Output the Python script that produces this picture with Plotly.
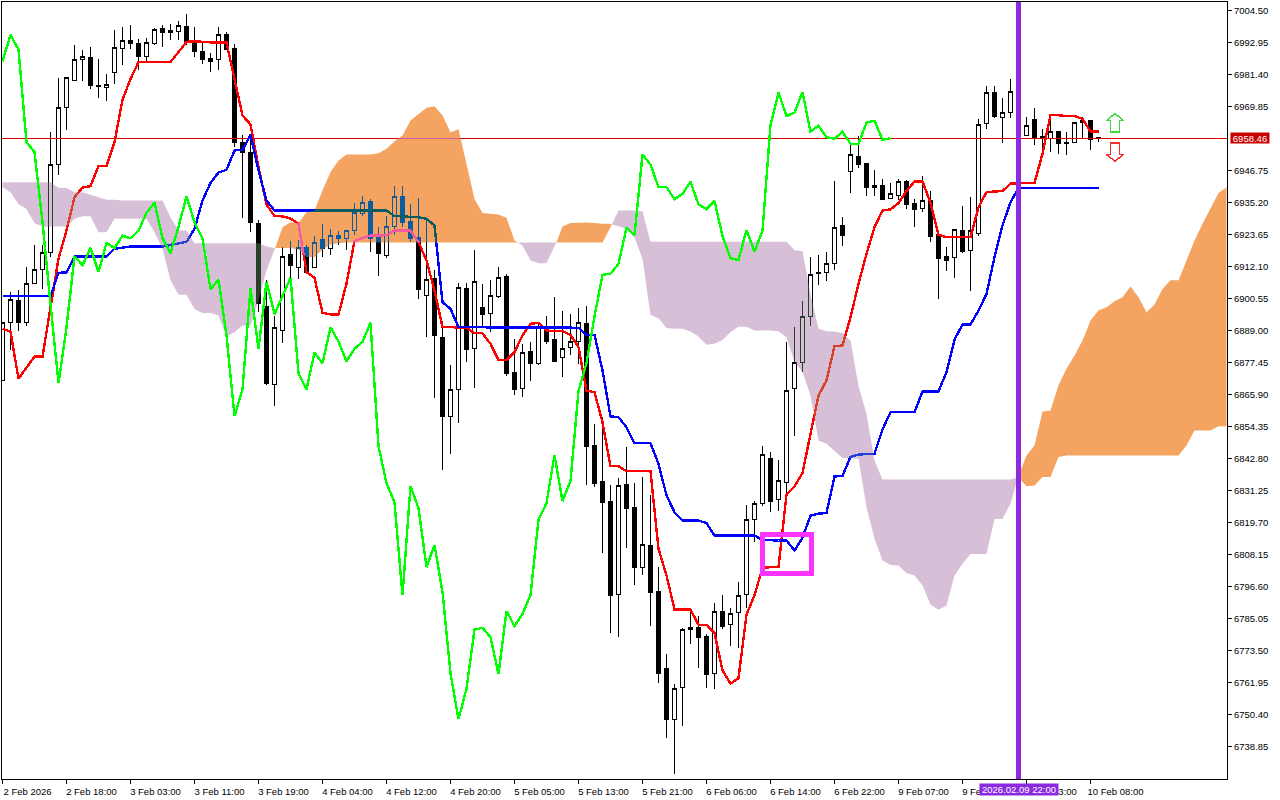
#!/usr/bin/env python3
# H1 candles with ichimoku lines
import plotly.graph_objects as go

opens = [6871.0,6892.0,6899.8,6892.0,6906.1,6910.9,6917.0,6948.8,6969.6,6979.2,
  6986.7,6987.4,6977.3,6976.8,6982.0,6990.7,6993.6,6992.5,6988.0,6992.7,
  6997.9,6997.2,6996.8,6998.7,6993.1,6989.7,6987.1,6986.7,6995.7,6990.7,
  6956.7,6953.1,6927.5,6897.8,6869.4,6889.0,6916.4,6911.6,6918.8,6911.6,
  6921.7,6918.7,6923.3,6922.1,6925.0,6931.4,6935.4,6922.4,6916.2,6926.7,
  6937.4,6928.3,6922.4,6901.8,6907.7,6886.4,6857.9,6867.6,6904.0,6882.6,
  6897.2,6895.0,6901.4,6908.5,6873.7,6868.2,6881.3,6877.2,6889.9,6885.6,
  6879.1,6882.8,6885.2,6891.7,6847.4,6834.4,6827.2,6793.8,6833.4,6825.0,
  6803.6,6811.4,6794.7,6766.9,6748.5,6760.0,6781.0,6781.7,6778.5,6765.1,
  6787.5,6782.8,6787.1,6793.7,6820.7,6826.4,6842.7,6827.9,6834.3,6868.0,
  6877.3,6894.2,6909.8,6910.1,6913.1,6926.9,6946.3,6951.8,6949.3,6941.3,
  6941.2,6936.8,6937.8,6942.7,6934.7,6932.9,6935.9,6923.5,6915.6,6915.2,
  6925.1,6917.8,6923.9,6963.6,6974.8,6966.0,6967.6,6975.0,6959.5,6965.2,
  6958.9,6958.2,6960.7,6956.9,6956.7,6964.0,6964.8,6958.6]
highs = [6892.0,6902.8,6903.7,6911.9,6919.7,6919.7,6960.8,6980.2,6980.2,6991.9,
  6990.3,6991.5,6987.1,6981.6,6997.6,6998.7,6999.1,6994.3,6994.5,6998.2,
  6999.1,6999.7,7000.6,7003.1,6998.7,6993.1,6989.1,6998.7,6996.9,6992.5,
  6959.4,6959.4,6929.0,6907.1,6894.1,6919.1,6921.3,6921.5,6919.9,6923.1,
  6927.5,6925.7,6924.9,6925.0,6935.0,6937.4,6936.4,6926.5,6930.5,6941.3,
  6941.3,6934.7,6936.9,6929.0,6910.7,6892.6,6876.6,6906.3,6906.3,6917.9,
  6905.9,6907.3,6912.1,6909.5,6886.0,6884.0,6884.8,6891.2,6894.4,6901.0,
  6895.9,6895.0,6897.2,6897.7,6855.1,6857.7,6833.1,6835.8,6847.1,6834.0,
  6836.1,6829.8,6803.8,6772.1,6761.5,6781.7,6787.3,6785.8,6779.5,6790.7,
  6793.7,6788.9,6798.4,6826.1,6827.6,6847.4,6845.3,6842.1,6884.8,6890.4,
  6899.8,6915.5,6916.4,6917.5,6943.1,6929.9,6956.1,6959.1,6949.5,6947.1,
  6943.7,6942.3,6943.7,6943.4,6936.5,6944.9,6939.5,6923.5,6919.1,6925.3,
  6933.8,6937.1,6965.4,6977.1,6977.4,6973.0,6979.8,6976.0,6966.2,6969.4,
  6961.8,6967.0,6960.7,6960.7,6964.4,6966.0,6965.0,6959.0]
lows = [6871.0,6882.0,6889.0,6890.5,6905.9,6904.0,6915.7,6945.3,6961.2,6978.9,
  6978.9,6976.0,6972.9,6972.0,6977.8,6985.0,6990.5,6983.2,6985.9,6992.2,
  6991.5,6993.9,6993.9,6991.9,6987.7,6985.3,6982.2,6983.2,6990.1,6955.4,
  6929.6,6924.5,6895.6,6869.5,6861.7,6884.4,6907.1,6907.5,6909.7,6911.5,
  6915.5,6916.4,6920.0,6917.9,6923.3,6930.3,6917.2,6908.5,6915.1,6923.3,
  6926.5,6920.8,6900.2,6886.6,6864.6,6838.7,6844.4,6855.6,6877.8,6868.2,
  6890.2,6888.4,6900.7,6872.4,6865.7,6864.9,6870.6,6876.7,6884.2,6877.9,
  6872.2,6880.0,6877.0,6833.1,6832.5,6808.6,6779.8,6778.3,6810.4,6797.3,
  6800.6,6782.3,6761.7,6741.9,6729.0,6746.2,6775.7,6767.1,6759.9,6759.7,
  6781.2,6775.1,6774.4,6788.8,6812.6,6825.8,6823.4,6824.0,6829.8,6850.9,
  6874.0,6890.8,6905.6,6907.0,6910.7,6919.4,6938.6,6947.6,6937.7,6937.4,
  6936.2,6936.3,6936.2,6932.8,6926.3,6931.7,6920.9,6900.3,6910.4,6907.9,
  6916.9,6903.4,6923.1,6961.6,6965.6,6956.6,6965.6,6959.0,6959.4,6955.9,
  6951.6,6953.4,6952.6,6952.3,6956.6,6958.2,6954.0,6956.9]
closes = [6892.0,6900.1,6892.0,6906.1,6910.9,6917.0,6948.8,6969.6,6980.2,6986.7,
  6987.8,6977.6,6977.1,6977.7,6991.0,6993.6,6992.7,6988.0,6992.8,6997.5,
  6996.7,6996.7,6999.0,6992.8,6989.8,6986.8,6986.2,6995.7,6990.4,6957.0,
  6953.4,6928.1,6898.6,6870.0,6890.2,6915.8,6912.6,6918.8,6910.1,6920.6,
  6918.7,6923.2,6922.3,6925.0,6931.5,6935.1,6922.3,6916.9,6926.4,6937.5,
  6928.1,6922.3,6903.9,6907.3,6887.3,6858.1,6867.8,6904.4,6882.3,6906.6,
  6894.9,6901.5,6908.0,6873.6,6867.8,6881.0,6877.2,6890.2,6885.0,6877.9,
  6882.4,6884.9,6891.8,6847.3,6833.9,6827.0,6793.4,6832.9,6824.9,6803.6,
  6811.6,6794.6,6765.3,6748.7,6759.7,6781.0,6781.7,6778.3,6765.0,6787.7,
  6782.3,6786.7,6793.5,6820.7,6826.7,6844.1,6827.4,6834.7,6867.2,6877.3,
  6894.1,6909.1,6909.5,6913.1,6926.1,6923.4,6952.5,6948.9,6940.7,6940.7,
  6936.4,6938.3,6942.7,6934.5,6932.8,6935.8,6923.1,6915.1,6914.4,6925.3,
  6917.5,6925.0,6963.2,6974.8,6966.4,6967.6,6975.1,6960.8,6962.9,6958.8,
  6958.2,6960.7,6956.4,6956.4,6964.0,6964.7,6957.8,6958.46]

tenkan = [6889.6,6888.6,6871.6,6875.5,6879.6,6879.6,6897.4,6914.9,6925.1,6937.1,
  6940.6,6941.1,6948.3,6948.3,6957.0,6972.3,6979.8,6985.9,6985.9,6985.9,
  6985.9,6985.9,6989.5,6993.2,6993.4,6993.1,6993.0,6993.0,6993.0,6979.8,
  6966.6,6963.4,6948.0,6934.5,6930.3,6930.2,6929.4,6927.5,6910.1,6908.0,
  6895.4,6894.8,6894.8,6905.9,6921.3,6922.4,6923.3,6923.3,6923.4,6925.1,
  6925.2,6925.1,6920.9,6914.3,6903.4,6890.2,6890.2,6890.2,6890.0,6888.0,
  6888.0,6884.2,6878.4,6878.4,6881.2,6887.2,6891.4,6891.8,6889.0,6888.8,
  6888.8,6887.4,6883.0,6867.3,6866.7,6855.9,6840.0,6840.0,6838.2,6838.2,
  6838.2,6838.2,6810.2,6800.6,6788.3,6788.3,6788.3,6782.8,6782.8,6779.8,
  6766.3,6761.5,6763.5,6786.5,6793.4,6803.3,6803.6,6803.6,6829.8,6832.7,
  6837.5,6851.7,6865.5,6871.0,6883.3,6883.6,6893.8,6905.8,6916.7,6926.3,
  6932.3,6932.7,6935.0,6939.3,6942.8,6942.8,6935.1,6923.5,6922.7,6922.7,
  6922.7,6922.7,6933.5,6938.9,6939.2,6939.3,6942.1,6942.1,6942.1,6942.2,
  6952.8,6966.7,6966.7,6966.4,6966.4,6965.4,6960.8,6960.8]
kijun = [6901.4,6901.4,6901.4,6901.4,6901.4,6901.4,6901.4,6909.8,6910.0,6915.7,
  6915.7,6915.7,6915.7,6915.7,6918.5,6919.0,6919.3,6919.3,6919.3,6919.3,
  6919.3,6919.9,6920.5,6921.0,6925.7,6935.9,6942.3,6946.0,6947.0,6954.0,
  6954.2,6959.6,6946.8,6935.9,6932.3,6932.3,6932.3,6932.3,6932.3,6932.3,
  6932.3,6932.3,6932.3,6932.3,6932.3,6932.3,6932.3,6932.3,6932.3,6930.3,
  6930.2,6930.2,6929.9,6929.3,6926.9,6899.2,6896.8,6890.2,6890.2,6890.2,
  6890.2,6890.2,6890.2,6890.2,6890.2,6890.2,6890.2,6890.2,6890.2,6890.2,
  6890.2,6890.2,6890.0,6887.4,6887.4,6874.6,6858.0,6857.7,6854.1,6848.3,
  6848.3,6848.3,6840.9,6829.5,6823.4,6820.4,6820.4,6820.4,6819.5,6815.0,
  6815.0,6815.0,6815.0,6815.0,6815.0,6813.4,6813.2,6813.2,6813.2,6809.6,
  6814.2,6822.2,6822.9,6823.1,6836.3,6836.5,6843.4,6844.2,6844.4,6844.5,
  6853.3,6859.5,6859.5,6859.5,6859.5,6867.0,6867.0,6867.0,6874.0,6885.7,
  6891.2,6891.2,6896.2,6902.2,6915.5,6926.9,6935.3,6940.4,6940.4,6940.4,
  6940.4,6940.4,6940.4,6940.4,6940.4,6940.4,6940.4,6940.4]
chikou = [6986.2,6995.7,6990.4,6957.0,6953.4,6928.1,6898.6,6870.0,6890.2,6915.8,
  6912.6,6918.8,6910.1,6920.6,6918.7,6923.2,6922.3,6925.0,6931.5,6935.1,
  6922.3,6916.9,6926.4,6937.5,6928.1,6922.3,6903.9,6907.3,6887.3,6858.1,
  6867.8,6904.4,6882.3,6906.6,6894.9,6901.5,6908.0,6873.6,6867.8,6881.0,
  6877.2,6890.2,6885.0,6877.9,6882.4,6884.9,6891.8,6847.3,6833.9,6827.0,
  6793.4,6832.9,6824.9,6803.6,6811.6,6794.6,6765.3,6748.7,6759.7,6781.0,
  6781.7,6778.3,6765.0,6787.7,6782.3,6786.7,6793.5,6820.7,6826.7,6844.1,
  6827.4,6834.7,6867.2,6877.3,6894.1,6909.1,6909.5,6913.1,6926.1,6923.4,
  6952.5,6948.9,6940.7,6940.7,6936.4,6938.3,6942.7,6934.5,6932.8,6935.8,
  6923.1,6915.1,6914.4,6925.3,6917.5,6925.0,6963.2,6974.8,6966.4,6967.6,
  6975.1,6960.8,6962.9,6958.8,6958.2,6960.7,6956.4,6956.4,6964.0,6964.7,
  6957.8,6958.46]

span_a = [6940.7,6938.9,6934.7,6932.9,6927.7,6926.5,6926.5,6926.5,6926.5,6929.3,
  6930.2,6930.2,6924.5,6924.5,6929.3,6929.3,6929.3,6929.3,6929.3,6924.5,
  6918.5,6907.1,6901.9,6901.9,6896.8,6895.3,6895.3,6894.4,6886.8,6888.4,
  6890.8,6890.8,6899.8,6910.7,6918.1,6926.3,6928.1,6927.8,6931.7,6932.3,
  6939.5,6946.2,6950.4,6952.5,6952.5,6952.5,6952.5,6953.0,6954.6,6957.3,
  6959.4,6964.8,6967.2,6969.4,6969.9,6966.6,6960.6,6961.6,6949.2,6936.5,
  6931.4,6931.1,6930.9,6929.7,6921.5,6919.7,6914.3,6913.3,6913.3,6919.1,
  6926.5,6927.8,6928.0,6928.0,6927.8,6927.5,6927.5,6926.6,6925.7,6922.7,
  6914.8,6894.6,6893.4,6889.9,6889.6,6889.6,6888.6,6886.8,6883.9,6884.2,
  6885.6,6888.4,6890.4,6890.4,6889.0,6889.0,6889.0,6888.7,6886.6,6877.6,
  6874.0,6865.5,6849.3,6848.1,6845.4,6843.0,6843.0,6842.7,6825.2,6813.8,
  6806.0,6804.4,6804.2,6801.4,6800.6,6797.0,6790.1,6788.2,6789.7,6800.6,
  6804.8,6808.3,6808.3,6808.3,6821.0,6821.0,6826.4,6836.7,6843.9,6847.5,
  6859.8,6860.1,6869.2,6875.2,6880.0,6885.4,6892.6,6896.2,6897.4,6899.6,
  6901.0,6904.9,6901.0,6895.6,6898.4,6904.0,6907.1,6907.1,6914.3,6921.5,
  6927.5,6932.9,6938.6,6940.7]
span_b = [6942.5,6942.5,6942.5,6942.5,6942.5,6942.5,6942.5,6940.5,6940.4,6938.9,
  6938.9,6938.1,6937.1,6936.2,6936.2,6935.9,6935.9,6935.9,6935.9,6935.9,
  6935.9,6929.9,6925.1,6925.1,6920.5,6920.5,6920.5,6920.5,6920.5,6920.5,
  6920.5,6920.5,6920.5,6919.3,6918.8,6918.8,6918.8,6918.2,6915.5,6915.5,
  6918.2,6920.0,6920.5,6920.8,6920.8,6920.8,6920.8,6920.8,6920.8,6920.8,
  6920.8,6920.8,6920.8,6920.8,6920.8,6920.8,6920.8,6920.8,6920.8,6920.8,
  6920.8,6920.8,6920.8,6920.8,6920.8,6920.8,6920.8,6920.8,6920.8,6920.8,
  6920.8,6920.8,6920.8,6920.8,6920.8,6920.8,6926.3,6932.3,6932.3,6932.3,
  6932.0,6921.0,6921.0,6921.0,6921.0,6921.0,6921.0,6921.0,6921.0,6921.0,
  6921.0,6921.0,6921.0,6921.0,6921.0,6921.0,6921.0,6921.0,6921.0,6918.1,
  6917.6,6902.2,6889.6,6888.7,6888.6,6888.1,6885.4,6869.1,6858.9,6842.1,
  6835.2,6835.2,6835.2,6835.2,6835.2,6835.2,6835.2,6835.2,6835.2,6835.2,
  6835.2,6835.2,6835.2,6835.2,6835.2,6835.2,6835.2,6836.1,6832.8,6833.1,
  6836.1,6836.1,6843.3,6843.9,6843.9,6843.9,6843.9,6843.9,6843.9,6843.9,
  6843.9,6843.9,6843.9,6843.9,6843.9,6843.9,6843.9,6843.9,6847.5,6852.9,
  6852.9,6852.9,6854.4,6854.4]

price_ticks = [7004.50,6992.95,6981.40,6969.85,6946.75,6935.20,6923.65,6912.10,
  6900.55,6889.00,6877.45,6865.90,6854.35,6842.80,6831.25,6819.70,6808.15,
  6796.60,6785.05,6773.50,6761.95,6750.40,6738.85]
time_ticks = [0,8,16,24,32,40,48,56,64,72,80,88,96,104,112,120,128,136]
time_labels = ["2 Feb 2026","2 Feb 18:00","3 Feb 03:00","3 Feb 11:00","3 Feb 19:00",
  "4 Feb 04:00","4 Feb 12:00","4 Feb 20:00","5 Feb 05:00","5 Feb 13:00","5 Feb 21:00",
  "6 Feb 06:00","6 Feb 14:00","6 Feb 22:00","9 Feb 07:00","9 Feb 15:00","9 Feb 23:00",
  "10 Feb 08:00"]

last_price = 6958.46
cursor_bar = 127
cursor_label = "2026.02.09 22:00"
box_bars = [95, 101.1]
box_prices = [6801.3, 6815.4]
up_arrow_x = [139.06,140.12,139.62,139.62,138.5,138.5,138.0,139.06]
up_arrow_y = [6967.3,6964.8,6964.8,6960.6,6960.6,6964.8,6964.8,6967.3]
down_arrow_x = [139.06,140.12,139.62,139.62,138.5,138.5,138.0,139.06]
down_arrow_y = [6950.1,6952.5,6952.5,6956.7,6956.7,6952.5,6952.5,6950.1]

x_min, x_max = -0.0625, 153.0625
y_min, y_max = 6727.12, 7007.57
font_name = "Liberation Sans"

# the terminal xors the cloud into the chart, so these are the inverted
# colours and the page blends them with "difference"
orange_xor = "rgb(11,91,159)"
thistle_xor = "rgb(39,64,39)"


def cloud_polygons(a, b):
  polys = {True: ([], []), False: ([], [])}

  def close_run(up, xs, tops, bots):
    px, py = polys[up]
    px += xs + xs[::-1] + [None]
    py += tops + bots[::-1] + [None]

  xs, tops, bots = [0], [a[0]], [b[0]]
  for i in range(1, len(a)):
    was_up = a[i - 1] >= b[i - 1]
    if (a[i] >= b[i]) != was_up:
      d0 = a[i - 1] - b[i - 1]
      d1 = a[i] - b[i]
      t = d0 / (d0 - d1)
      xc = i - 1 + t
      yc = a[i - 1] + t * (a[i] - a[i - 1])
      close_run(was_up, xs + [xc], tops + [yc], bots + [yc])
      xs, tops, bots = [xc], [yc], [yc]
    xs.append(i)
    tops.append(a[i])
    bots.append(b[i])
  close_run(a[-1] >= b[-1], xs, tops, bots)
  return polys


fig = go.Figure()

# white backdrop inside the clipped plot group, the blend needs something to hit
fig.add_trace(go.Bar(x=[x_max / 2], y=[y_max - y_min], base=[y_min], width=[x_max + 2],
                     marker=dict(color="white", line=dict(width=0))))

bars = list(range(len(closes)))
fig.add_trace(go.Candlestick(x=bars, open=opens, high=highs, low=lows, close=closes,
                             whiskerwidth=0,
                             increasing=dict(line=dict(color="black", width=1), fillcolor="white"),
                             decreasing=dict(line=dict(color="black", width=1), fillcolor="black")))

fig.add_trace(go.Scatter(x=[x_min, x_max], y=[last_price, last_price], mode="lines",
                         line=dict(color="#e00000", width=1)))
fig.add_trace(go.Scatter(x=bars, y=tenkan, mode="lines", line=dict(color="#ff0000", width=2.4)))
fig.add_trace(go.Scatter(x=bars, y=kijun, mode="lines", line=dict(color="#0000ff", width=2.4)))

polys = cloud_polygons(span_a, span_b)
for up, color in ((True, orange_xor), (False, thistle_xor)):
  fig.add_trace(go.Scatter(x=polys[up][0], y=polys[up][1], mode="lines", fill="toself",
                           fillcolor=color, line=dict(width=0)))

fig.add_trace(go.Scatter(x=list(range(len(chikou))), y=chikou, mode="lines",
                         line=dict(color="#00ff00", width=2.4)))
fig.add_trace(go.Scatter(x=up_arrow_x, y=up_arrow_y, mode="lines",
                         line=dict(color="#40d840", width=1.5)))
fig.add_trace(go.Scatter(x=down_arrow_x, y=down_arrow_y, mode="lines",
                         line=dict(color="#f03030", width=1.5)))

fig.add_shape(type="line", x0=cursor_bar, x1=cursor_bar, y0=y_min, y1=y_max,
              line=dict(color="#8a2be2", width=5))
fig.add_shape(type="rect", x0=box_bars[0], x1=box_bars[1], y0=box_prices[0], y1=box_prices[1],
              line=dict(color="#ff33ff", width=5))

fig.add_annotation(x=1, xref="paper", y=last_price, yref="y", xanchor="left", yanchor="middle",
                   xshift=3, text=f"{last_price:.2f}", showarrow=False, width=38, height=10,
                   bgcolor="#c80000", borderpad=0,
                   font=dict(family=font_name, size=9.5, color="white"))
fig.add_annotation(x=cursor_bar, xref="x", y=0, yref="paper", yanchor="top", yshift=-4,
                   text=cursor_label, showarrow=False, width=78, height=11,
                   bgcolor="#8a2be2", borderpad=0,
                   font=dict(family=font_name, size=9.5, color="white"))

fig.update_layout(
  width=1280, height=800, showlegend=False, hovermode=False,
  margin=dict(l=2, r=53, t=2, b=21, pad=0),
  paper_bgcolor="white", plot_bgcolor="white", boxgap=0.42,
  font=dict(family=font_name, size=9.5, color="black"),
  xaxis=dict(range=[x_min, x_max], rangeslider=dict(visible=False), tickmode="array",
             tickvals=time_ticks, ticktext=time_labels, showgrid=False, zeroline=False,
             showline=True, mirror=True, linecolor="black", linewidth=1,
             ticks="outside", ticklen=4, tickcolor="black", tickangle=0,
             ticklabelshift=25, ticklabelstandoff=0),
  yaxis=dict(range=[y_min, y_max], side="right", tickmode="array", tickvals=price_ticks,
             tickformat=".2f", showgrid=False, zeroline=False,
             showline=True, mirror=True, linecolor="black", linewidth=1,
             ticks="outside", ticklen=4, tickcolor="black"),
)

page_js = """
document.body.style.margin = '0';
var gd = document.getElementById('{plot_id}');
gd.querySelectorAll('.js-fill').forEach(function (p) { p.style.mixBlendMode = 'difference'; });
gd.querySelectorAll('.js-line, .boxes path, .shapelayer path').forEach(function (p) {
  p.style.shapeRendering = 'crispEdges';
});
"""

fig.write_html("out.html", config=dict(displayModeBar=False), post_script=page_js)
